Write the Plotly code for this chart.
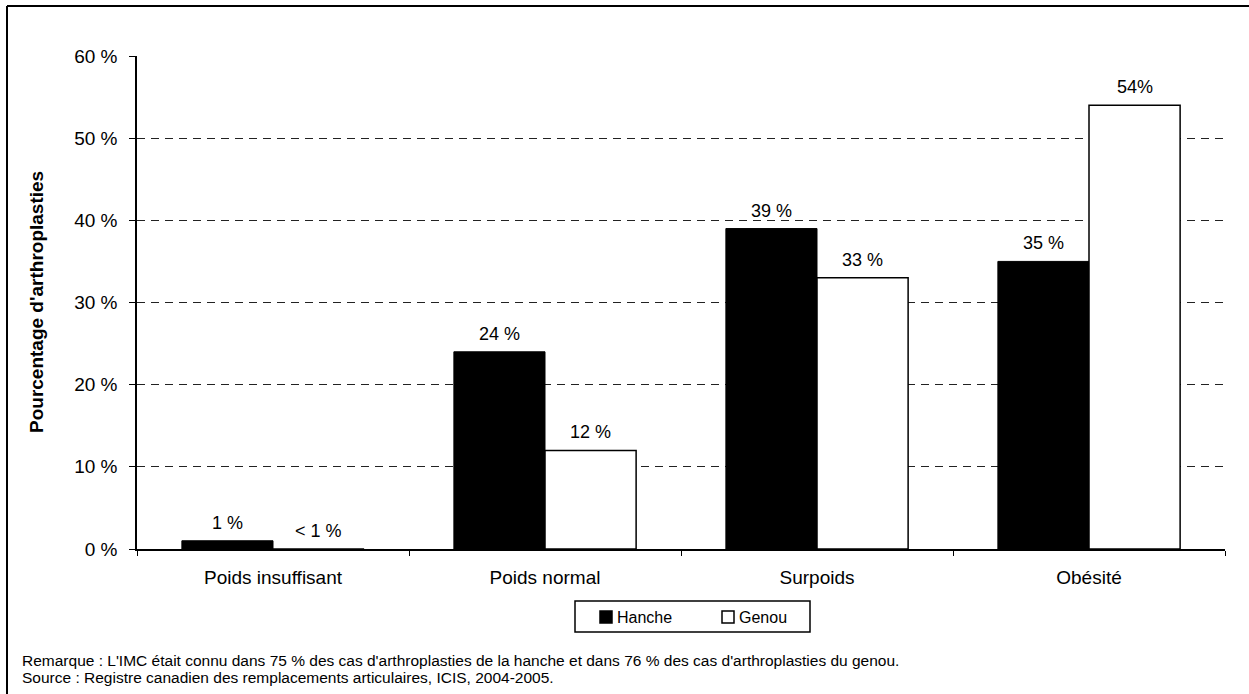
import plotly.graph_objects as go

# Data
categories = ["Poids insuffisant", "Poids normal", "Surpoids", "Obésité"]
series_names = ["Hanche", "Genou"]
hanche = [1, 24, 39, 35]
genou = [0, 12, 33, 54]
hanche_labels = ["1 %", "24 %", "39 %", "35 %"]
genou_labels = ["< 1 %", "12 %", "33 %", "54%"]
y_ticks = [0, 10, 20, 30, 40, 50, 60]
y_tick_labels = ["0 %", "10 %", "20 %", "30 %", "40 %", "50 %", "60 %"]

FONT = "Arial, Liberation Sans, Helvetica, sans-serif"
W, H = 1249, 694
L, R, T, B = 137, 24, 56, 145
PW, PH = W - L - R, H - T - B


def px_x(px):
    return (px - L) / PW


def px_y(py):
    return (H - B - py) / PH


fig = go.Figure()
fig.add_trace(go.Bar(
    name=series_names[0], x=categories, y=hanche, showlegend=False,
    marker=dict(color="black", line=dict(color="black", width=1)),
))
fig.add_trace(go.Bar(
    name=series_names[1], x=categories, y=genou, showlegend=False,
    marker=dict(color="white", line=dict(color="black", width=1.5)),
))

# value labels above each bar (bars are ~91 px wide, so centres sit ±45.5 px from the category)
offset = 45.5
for cat, v, t in zip(categories, hanche, hanche_labels):
    fig.add_annotation(x=cat, y=v, text=t, showarrow=False, xshift=-offset,
                       yshift=18, yanchor="middle", font=dict(size=18, color="black", family=FONT))
for cat, v, t in zip(categories, genou, genou_labels):
    fig.add_annotation(x=cat, y=v, text=t, showarrow=False, xshift=offset,
                       yshift=18, yanchor="middle", font=dict(size=18, color="black", family=FONT))

# y-axis title
fig.add_annotation(xref="paper", yref="paper", x=px_x(36), y=px_y(302),
                   xanchor="center", yanchor="middle",
                   text="<b>Pourcentage d'arthroplasties</b>", textangle=-90, showarrow=False,
                   font=dict(size=19, color="black", family=FONT))

# legend box drawn by hand
fig.add_shape(type="rect", xref="paper", yref="paper",
              x0=px_x(575), x1=px_x(810), y0=px_y(601), y1=px_y(632),
              line=dict(color="black", width=1.5), fillcolor="white")
legend_items = [(series_names[0], 600, "black"), (series_names[1], 722, "white")]
for name, sx, fill in legend_items:
    fig.add_shape(type="rect", xref="paper", yref="paper",
                  x0=px_x(sx), x1=px_x(sx + 12), y0=px_y(611), y1=px_y(623),
                  line=dict(color="black", width=1.5), fillcolor=fill)
    fig.add_annotation(xref="paper", yref="paper", x=px_x(sx + 15), y=px_y(617),
                       text=name, showarrow=False, xanchor="left", yanchor="middle",
                       font=dict(size=16, color="black", family=FONT))

# notes
notes = [
    "Remarque : L'IMC était connu dans 75 % des cas d'arthroplasties de la hanche et dans 76 % des cas d'arthroplasties du genou.",
    "Source : Registre canadien des remplacements articulaires, ICIS, 2004-2005.",
]
for i, n in enumerate(notes):
    fig.add_annotation(xref="paper", yref="paper", x=px_x(20),
                       y=px_y(660 + 17 * i), text=n, showarrow=False,
                       xanchor="left", yanchor="middle",
                       font=dict(size=15.5, color="black", family=FONT))

# outer frame (top and left edges)
fig.add_shape(type="line", xref="paper", yref="paper", x0=px_x(7), x1=px_x(1260),
              y0=px_y(6), y1=px_y(6), line=dict(color="black", width=2))
fig.add_shape(type="line", xref="paper", yref="paper", x0=px_x(7), x1=px_x(7),
              y0=px_y(6), y1=px_y(700), line=dict(color="black", width=2))

fig.update_layout(
    width=W, height=H,
    margin=dict(l=L, r=R, t=T, b=B),
    paper_bgcolor="white", plot_bgcolor="white",
    barmode="group", bargap=0.33, bargroupgap=0,
    font=dict(family=FONT, color="black", size=18),
    showlegend=False,
    xaxis=dict(
        showline=True, linecolor="black", linewidth=1.5,
        ticks="outside", tickson="boundaries", ticklen=5, tickcolor="black",
        showgrid=False, tickfont=dict(size=19, family=FONT), ticklabelstandoff=10,
    ),
    yaxis=dict(
        range=[0, 60], tickvals=y_ticks, ticktext=y_tick_labels,
        showline=True, linecolor="black", linewidth=1.5,
        ticks="outside", ticklen=6, tickcolor="black",
        showgrid=True, gridcolor="#222222", gridwidth=1, griddash="8px,6px",
        zeroline=False, tickfont=dict(size=19, family=FONT), ticklabelstandoff=8,
    ),
)

fig.write_html("out.html")
